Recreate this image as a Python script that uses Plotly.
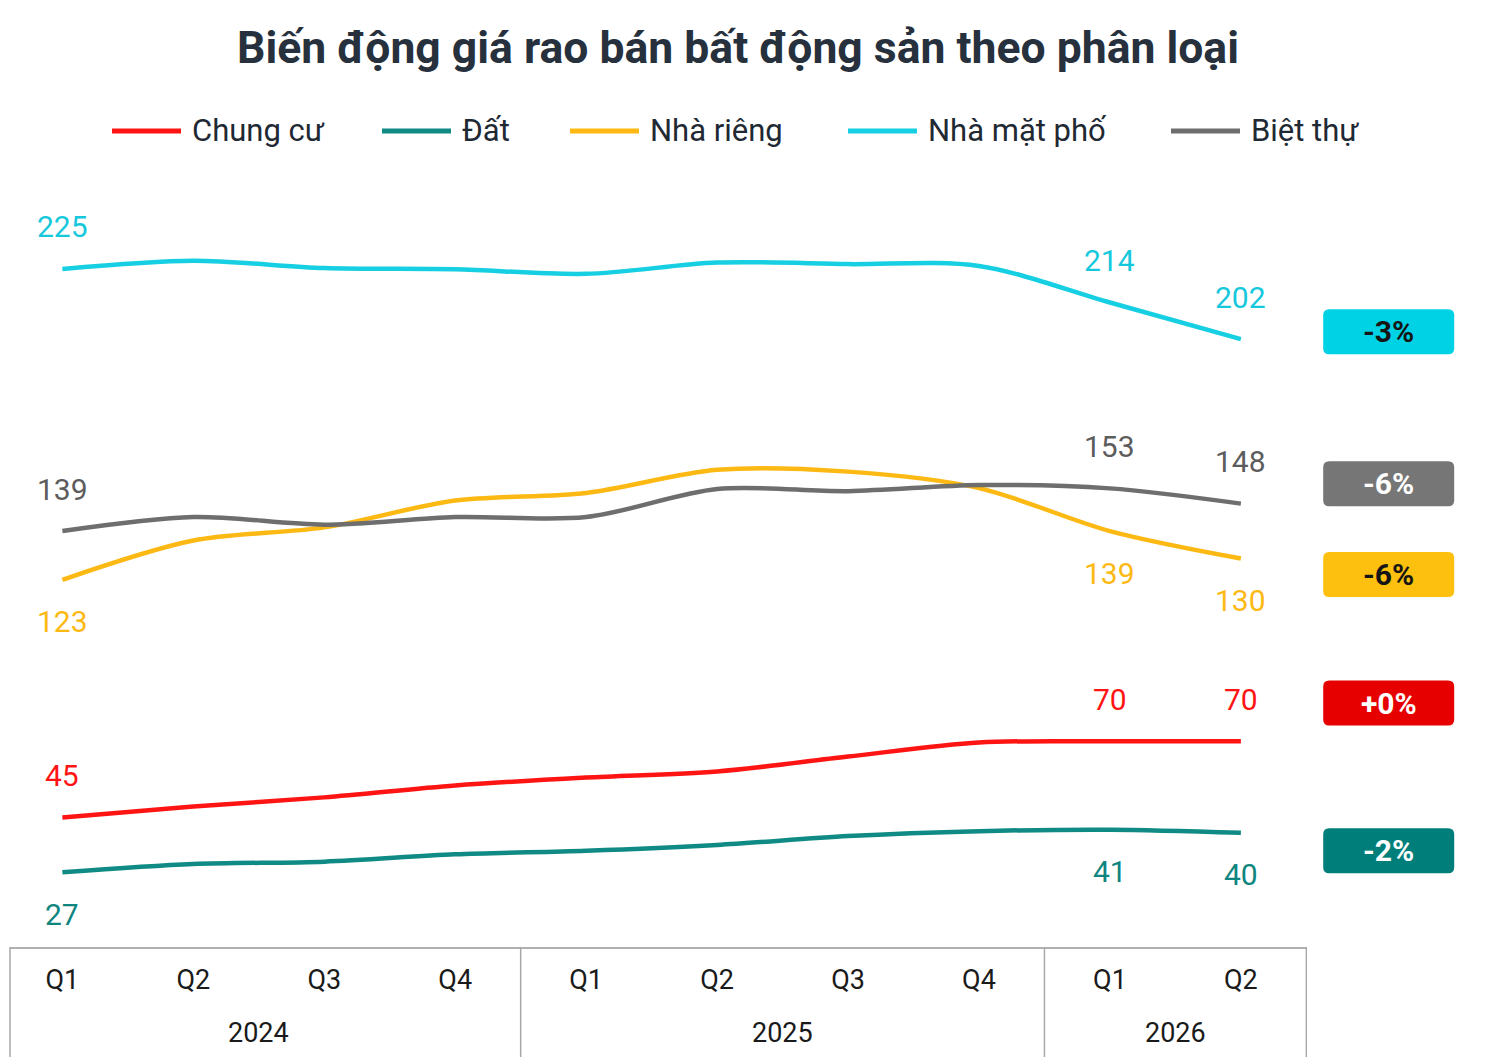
import plotly.graph_objects as go

# data (million VND / m2)
quarters = ["Q1", "Q2", "Q3", "Q4", "Q1", "Q2", "Q3", "Q4", "Q1", "Q2"]
years = ["2024", "2024", "2024", "2024", "2025", "2025", "2025", "2025", "2026", "2026"]

names = ["Chung cư", "Đất", "Nhà riêng", "Nhà mặt phố", "Biệt thự"]
chung_cu = [45, 48.6, 51.6, 55.5, 58.1, 60.1, 65.0, 69.6, 70, 70]
dat = [27, 29.7, 30.5, 32.9, 34.1, 36.0, 38.9, 40.5, 41, 40]
nha_rieng = [123, 135.9, 140.2, 149.0, 151.5, 159.1, 158.5, 153.1, 139, 130]
nha_mat_pho = [225, 227.7, 225.3, 224.9, 223.4, 227.1, 226.6, 226.0, 214, 202]
biet_thu = [139, 143.6, 141.1, 143.6, 143.6, 152.8, 152.1, 154.1, 153, 148]
series = [chung_cu, dat, nha_rieng, nha_mat_pho, biet_thu]

changes = ["+0%", "-2%", "-6%", "-3%", "-6%"]
labelled_points = [0, 8, 9]

# styling
colors = ["#ff1414", "#0f8a84", "#fdb913", "#16cfe2", "#6e6e6e"]
label_colors = ["#ff1414", "#0f8580", "#fdb913", "#16c8dc", "#5c5c5c"]
badge_colors = ["#e60000", "#007f7a", "#fec00f", "#00d2e6", "#767676"]
badge_text = ["white", "white", "#151515", "#151515", "white"]
label_side = [1, -1, -1, 1, 1]          # 1 = above the line, -1 = below
badge_y = [0.318, 0.1256, 0.4855, 0.802, 0.604]  # paper y of badge centres

FONT = "Roboto"
W, H = 1480, 1049          # page body adds an 8px margin
ML, MR, MT, MB = 2, 181, 172, 110
plot_w = W - ML - MR
plot_h = H - MT - MB
x = list(range(len(quarters)))


def px_x(sx):
    # screen x (px) -> paper x
    return (sx - 8 - ML) / plot_w


def px_y(sy):
    # screen y (px) -> paper y
    return (H - MB - (sy - 8)) / plot_h


fig = go.Figure()
for name, vals, col in zip(names, series, colors):
    fig.add_trace(go.Scatter(
        x=x, y=vals, name=name, mode="lines",
        line=dict(color=col, width=4.5, shape="spline", smoothing=0.9),
        showlegend=False, hoverinfo="x+y+name"
    ))

annotations = []
shapes = []

# value labels at the first and last two points
for vals, col, side in zip(series, label_colors, label_side):
    for i in labelled_points:
        annotations.append(dict(
            x=x[i], y=vals[i], xref="x", yref="y", text=f"{vals[i]:.0f}",
            showarrow=False, yshift=42 * side, yanchor="middle",
            font=dict(family=FONT, size=30, color=col)
        ))

# change badges on the right
badge_path = ("M -59.5,-22.5 L 59.5,-22.5 Q 65.5,-22.5 65.5,-16.5 L 65.5,16.5 "
              "Q 65.5,22.5 59.5,22.5 L -59.5,22.5 Q -65.5,22.5 -65.5,16.5 "
              "L -65.5,-16.5 Q -65.5,-22.5 -59.5,-22.5 Z")
badge_x = px_x(1388.7)
for txt, bcol, tcol, by in zip(changes, badge_colors, badge_text, badge_y):
    shapes.append(dict(
        type="path", xref="paper", yref="paper", xsizemode="pixel", ysizemode="pixel",
        xanchor=badge_x, yanchor=by, path=badge_path,
        fillcolor=bcol, line=dict(width=0), layer="above"
    ))
    annotations.append(dict(
        x=badge_x, y=by, xref="paper", yref="paper", text=f"<b>{txt}</b>",
        showarrow=False, xanchor="center", yanchor="middle",
        font=dict(family=FONT, size=30, color=tcol)
    ))

# legend drawn by hand (long line swatches)
legend_line_px = [112, 382, 570, 848, 1171]
legend_y = px_y(131)
for name, col, sx in zip(names, colors, legend_line_px):
    shapes.append(dict(
        type="line", xref="paper", yref="paper",
        x0=px_x(sx), x1=px_x(sx + 69), y0=legend_y, y1=legend_y,
        line=dict(color=col, width=5)
    ))
    annotations.append(dict(
        x=px_x(sx + 78), y=legend_y, xref="paper", yref="paper",
        text=name, showarrow=False, xanchor="left", yanchor="middle",
        font=dict(family=FONT, size=31, color="#1f2933")
    ))

# year groups under the quarter ticks
groups = []
for i, yr in enumerate(years):
    if not groups or groups[-1][0] != yr:
        groups.append([yr, i, i])
    else:
        groups[-1][2] = i
bottom = -MB / plot_h
for yr, i0, i1 in groups:
    annotations.append(dict(
        x=(x[i0] + x[i1]) / 2, y=px_y(1033),
        xref="x", yref="paper", text=yr, showarrow=False, yanchor="middle",
        font=dict(family=FONT, size=27, color="#1a1a1a")
    ))
    shapes.append(dict(
        type="line", xref="x", yref="paper", x0=x[i1] + 0.5, x1=x[i1] + 0.5,
        y0=0, y1=bottom, line=dict(color="#a8a8a8", width=1.5)
    ))
shapes.append(dict(
    type="line", xref="paper", yref="paper", x0=px_x(10), x1=px_x(10),
    y0=0, y1=bottom, line=dict(color="#a8a8a8", width=1.5)
))

fig.update_layout(
    width=W, height=H,
    margin=dict(l=ML, r=MR, t=MT, b=MB),
    paper_bgcolor="white", plot_bgcolor="white",
    title=dict(
        text="<b>Biến động giá rao bán bất động sản theo phân loại</b>",
        x=(738 - 8) / W, xref="container", xanchor="center",
        y=1 - (47 - 8) / H, yref="container", yanchor="middle",
        font=dict(family=FONT, size=44.5, color="#27313d")
    ),
    xaxis=dict(
        range=[-0.4, 9.505], tickvals=x, ticktext=quarters,
        showgrid=False, zeroline=False,
        showline=True, linecolor="#b0b0b0", linewidth=2,
        ticks="outside", ticklen=8, tickcolor="rgba(0,0,0,0)",
        tickfont=dict(family=FONT, size=27, color="#1a1a1a")
    ),
    yaxis=dict(range=[2.5, 254.2], visible=False, showgrid=False, zeroline=False),
    shapes=shapes,
    annotations=annotations,
    showlegend=False,
    hovermode="x unified",
)

fig.write_html("out.html")
